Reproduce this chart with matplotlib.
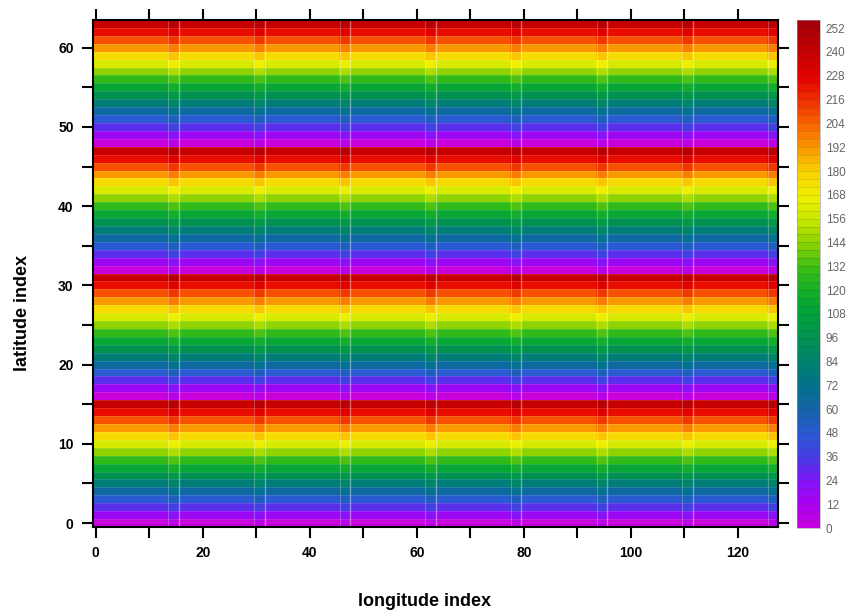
import numpy as np
import matplotlib

matplotlib.use("Agg")
import matplotlib.pyplot as plt  # noqa: E402
from matplotlib.colors import LinearSegmentedColormap, Normalize  # noqa: E402
from matplotlib.ticker import MultipleLocator  # noqa: E402

plt.rcParams["font.family"] = ["Liberation Sans", "DejaVu Sans"]

# grid size
n_lon = 128
n_lat = 64

# value of each latitude row inside one 16-row band
band_values = [0, 16, 32, 48, 64, 80, 96, 112, 128, 144, 160, 176, 192, 208, 224, 240]
# extra value of each longitude column inside one 16-column block
block_shift = [0, 0, 0, 0, 0, 0, 0, 0, 0, 0, 0, 0, 0, 0, 6, 6]

cbar_ticks = list(range(0, 253, 12))

# rainbow palette: magenta -> violet -> blue -> teal -> green -> yellow -> orange -> red
palette = [
    (0, "#c800dc"), (12, "#aa00f0"), (24, "#8214fa"), (36, "#463ce6"),
    (48, "#285ad2"), (60, "#1464aa"), (72, "#00738c"), (84, "#00826e"),
    (96, "#009150"), (108, "#00a03c"), (120, "#14af28"), (132, "#3cbe14"),
    (144, "#8cd200"), (156, "#c8e600"), (168, "#f0f000"), (180, "#fad200"),
    (192, "#fa9b00"), (204, "#fa6400"), (216, "#f03200"), (228, "#e60000"),
    (240, "#c80000"), (256, "#a0000a"),
]
cmap = LinearSegmentedColormap.from_list(
    "rainbow_ncl", [(v / 256, c) for v, c in palette], N=256)
norm = Normalize(vmin=0, vmax=256)

lon = np.arange(n_lon)
lat = np.arange(n_lat)
field = (np.array(band_values)[lat % 16][:, None]
         + np.array(block_shift)[lon % 16][None, :])

fig = plt.figure(figsize=(8.48, 6.14), dpi=100)
ax = fig.add_axes([0.1097, 0.1417, 0.8077, 0.8257])

lon_edges = np.arange(n_lon + 1) - 0.5
lat_edges = np.arange(n_lat + 1) - 0.5
ax.pcolormesh(lon_edges, lat_edges, field, cmap=cmap, norm=norm, shading="flat")

# faint cell seams
ax.hlines(lat_edges[1:-1], -0.5, n_lon - 0.5, colors="white", linewidth=0.6, alpha=0.15)
for start in range(0, n_lon, 16):
    ax.axvline(start + 13.6, color="white", linewidth=0.8, alpha=0.25)
    ax.axvline(start + 15.55, color="white", linewidth=1.0, alpha=0.4)

ax.set_xlim(-0.5, n_lon - 0.5)
ax.set_ylim(-0.5, n_lat - 0.5)

ax.xaxis.set_major_locator(MultipleLocator(20))
ax.xaxis.set_minor_locator(MultipleLocator(10))
ax.yaxis.set_major_locator(MultipleLocator(10))
ax.yaxis.set_minor_locator(MultipleLocator(5))
for which in ("major", "minor"):
    ax.tick_params(which=which, direction="out", length=8, width=1.5,
                   top=True, right=True, labeltop=False, labelright=False)
ax.tick_params(which="major", labelsize=10, pad=6)
for lbl in ax.get_xticklabels() + ax.get_yticklabels():
    lbl.set_fontweight("bold")
for sp in ax.spines.values():
    sp.set_linewidth(1.5)

fig.text(0.500, 0.021, "longitude index", ha="center", va="center",
         fontsize=13, fontweight="bold")
fig.text(0.026, 0.49, "latitude index", ha="center", va="center",
         rotation=90, fontsize=13, fontweight="bold")

# label bar
cax = fig.add_axes([0.940, 0.140, 0.027, 0.827])
sm = plt.cm.ScalarMappable(norm=norm, cmap=cmap)
cb = fig.colorbar(sm, cax=cax, boundaries=np.arange(0, 257, 4), drawedges=True)
cb.dividers.set_color((0.2, 0.2, 0.2, 0.25))
cb.dividers.set_linewidth(0.4)
cb.outline.set_linewidth(0.4)
cb.outline.set_edgecolor("#999999")
cb.set_ticks(cbar_ticks)
cb.ax.tick_params(length=0, labelsize=8.5, labelcolor="#666666", pad=4)

fig.savefig("out.png", dpi=100)
plt.close(fig)
